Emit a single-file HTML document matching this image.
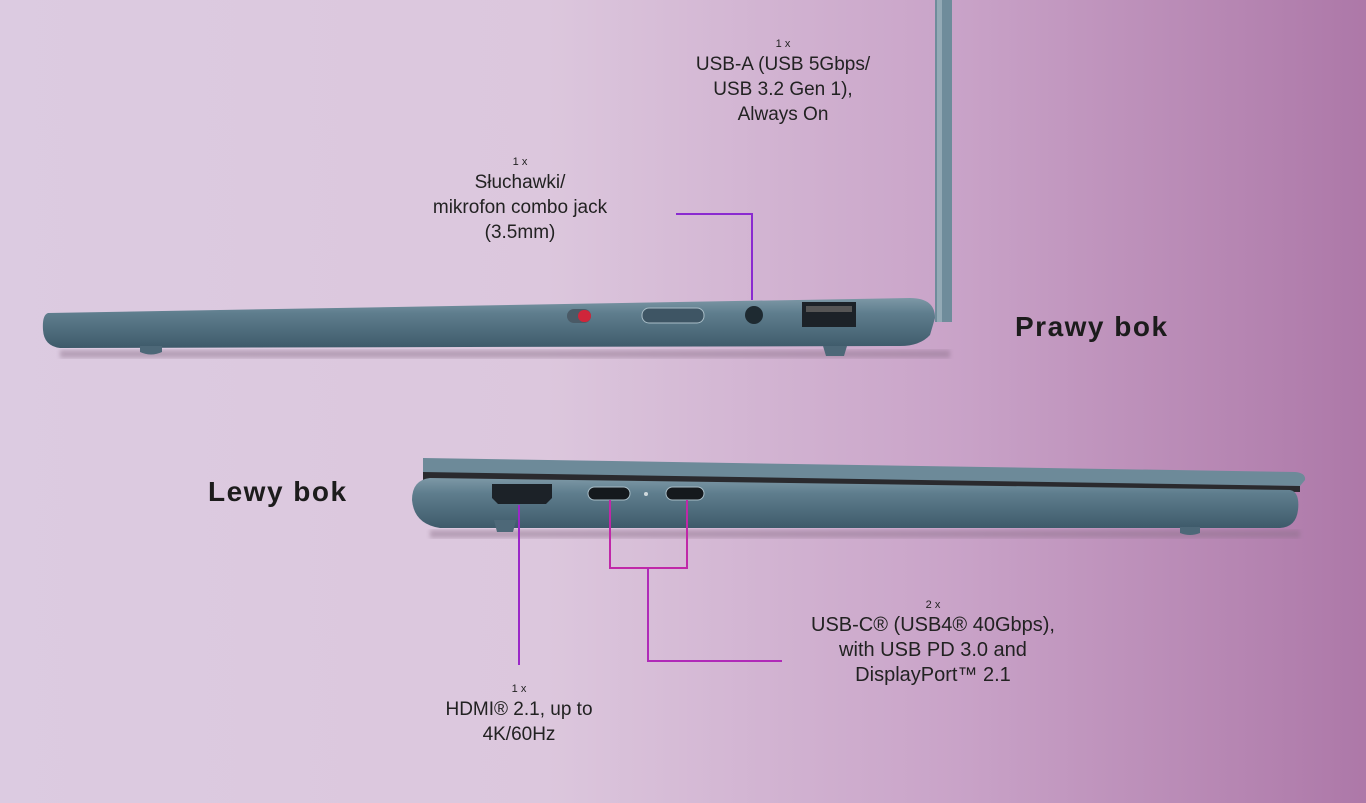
<!DOCTYPE html>
<html><head><meta charset="utf-8"><style>
html,body{margin:0;padding:0}
body{width:1366px;height:803px;overflow:hidden;position:relative;font-family:"Liberation Sans",sans-serif;
background:linear-gradient(90deg,#dccbe1 0%,#dcc7dd 40%,#c9a3c8 70%,#ad78a8 100%);}
.t{position:absolute;text-align:center;color:#222;font-size:19px;line-height:25px;transform:translateX(-50%);white-space:nowrap}
.t small{font-size:11px;display:block;line-height:16px}
.h{position:absolute;font-weight:bold;font-size:28px;color:#1c1c1c;letter-spacing:1.5px}
svg{position:absolute;left:0;top:0}
</style></head><body>
<svg width="1366" height="803">
<defs>
<linearGradient id="bd" x1="0" y1="0" x2="0" y2="1"><stop offset="0" stop-color="#7d98a6"/><stop offset="0.3" stop-color="#5f7e8e"/><stop offset="1" stop-color="#3e5a6a"/></linearGradient>
<linearGradient id="ln" x1="0" y1="0" x2="0" y2="1"><stop offset="0" stop-color="#7a2fd0"/><stop offset="1" stop-color="#d21fa0"/></linearGradient>
<filter id="bl"><feGaussianBlur stdDeviation="2"/></filter>
</defs>
<rect x="60" y="350" width="890" height="8" fill="#8a7088" opacity="0.45" filter="url(#bl)"/>
<rect x="935" y="0" width="17" height="322" fill="#6f8c9b"/>
<rect x="937" y="0" width="5" height="322" fill="#93aab6"/>
<path d="M48 313 L910 298 Q935 298 935 318 L930 335 Q920 346 900 346 L60 348 Q44 346 43 330 Q42 315 48 313Z" fill="url(#bd)"/>
<path d="M140 346 h22 v6 q-11 5 -22 0z" fill="#4d6878"/>
<path d="M823 346 h24 l-3 10 h-18z" fill="#4d6878"/>
<rect x="567" y="309" width="24" height="14" rx="7" fill="#4a5a66"/><rect x="578" y="310" width="13" height="12" rx="6" fill="#d0253a"/>
<rect x="642" y="308" width="62" height="15" rx="7" fill="#3e5564" stroke="#a9bdc7"/>
<circle cx="754" cy="315" r="9" fill="#1e2a31"/>
<rect x="802" y="302" width="54" height="25" fill="#1c2228"/><rect x="806" y="306" width="46" height="6" fill="#555"/>
<rect x="430" y="530" width="870" height="8" fill="#8a7088" opacity="0.45" filter="url(#bl)"/>
<path d="M423 458 L1295 472 Q1306 473 1305 480 L1300 486 L423 474Z" fill="#6d8a99"/>
<path d="M423 472 L1300 486 L1300 492 L423 481Z" fill="#2a2a2e"/>
<path d="M430 478 L1290 490 Q1300 492 1298 510 Q1296 527 1280 528 L440 528 Q414 524 412 500 Q412 480 430 478Z" fill="url(#bd)"/>
<path d="M494 520 h22 l-3 12 h-16z" fill="#4d6878"/>
<path d="M1180 527 h20 v6 q-10 4 -20 0z" fill="#4d6878"/>
<path d="M492 484 h60 v14 l-6 6 h-48 l-6 -6z" fill="#1c2228"/>
<rect x="588" y="487" width="42" height="13" rx="6.5" fill="#15191d" stroke="#a9bdc7"/>
<circle cx="646" cy="494" r="2" fill="#cfd8dc"/>
<rect x="666" y="487" width="38" height="13" rx="6.5" fill="#15191d" stroke="#a9bdc7"/>
<g fill="none" stroke-width="2">
<path d="M676 214 H752 V300" stroke="#8a2ad0"/>
<path d="M822 148 V300" stroke="url(#ln)"/>
<path d="M519 505 V665" stroke="#9b28c8"/>
<path d="M610 500 V568 H687 V500" stroke="#c028a8"/>
<path d="M648 568 V661 H782" stroke="#b02ab8"/>
</g>
</svg>
<div class="t" style="left:783px;top:36px"><small>1 x</small>USB-A (USB 5Gbps/<br>USB 3.2 Gen 1),<br>Always On</div>
<div class="t" style="left:520px;top:154px"><small>1 x</small>Słuchawki/<br>mikrofon combo jack<br>(3.5mm)</div>
<div class="t" style="left:519px;top:681px"><small>1 x</small>HDMI® 2.1, up to<br>4K/60Hz</div>
<div class="t" style="left:933px;top:597px;font-size:20px"><small>2 x</small>USB-C® (USB4® 40Gbps),<br>with USB PD 3.0 and<br>DisplayPort™ 2.1</div>
<div class="h" style="left:1015px;top:311px">Prawy bok</div>
<div class="h" style="left:208px;top:476px">Lewy bok</div>
</body></html>
